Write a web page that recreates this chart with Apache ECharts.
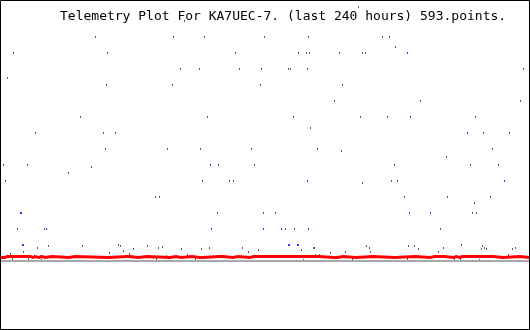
<!DOCTYPE html>
<html><head><meta charset="utf-8">
<script src="https://cdn.jsdelivr.net/npm/echarts@6/dist/echarts.min.js"></script>
<style>html,body{margin:0;padding:0;background:#fff}#c{width:530px;height:330px}</style>
</head><body><div id="c"></div>
<script>
// Title text
const titleText = 'Telemetry Plot For KA7UEC-7. (last 240 hours) 593.points.';

// Black telemetry samples: levels and the hours (0..240) at which they occur
const blackLevels = [15.875, 15, 14, 13.375, 13, 12, 11.4375, 11, 10, 9, 8.3125, 8, 7, 6.875, 6.5, 6, 5.875, 5.5, 5, 4.875, 4, 3.625, 3, 2,
  1, 0.9375, 0.875, 0.8125, 0.75, 0.6875, 0.625, 0.5625, 0.5, 0.4375, 0.375, 0.3125, 0.25, 0.1875, 0.125, 0.0625];
const blackHours = [
  [162.34],
  [83.55],
  [43.25, 78.57, 92.60, 119.77, 139.70, 173.21, 176.38],
  [179.09],
  [6.11, 48.68, 106.64, 135.17, 138.79, 140.15, 153.74, 164.15, 165.51],
  [81.74, 90.34, 108.45, 118.42, 130.64, 131.55, 139.25, 237.06],
  [3.40],
  [48.23, 78.11, 117.96, 155.09],
  [151.47, 190.42, 235.70],
  [36.45, 93.96, 132.91, 163.25, 175.47, 215.32],
  [140.60],
  [16.08, 46.87, 52.30, 218.94, 230.72],
  [47.77, 75.85, 90.79, 113.89, 143.77, 223.02],
  [154.64],
  [202.19],
  [1.58, 12.45, 98.94, 115.25, 178.64, 213.06, 225.74],
  [41.43],
  [31.02],
  [2.49, 91.70, 103.92, 105.74, 177.28, 180.00],
  [164.15],
  [70.41, 72.23, 183.17, 202.64, 222.11],
  [214.87],
  [98.49, 119.32, 124.75, 213.96, 215.77],
  [7.92, 20.15, 129.28, 133.36, 199.47],
  [53.66, 208.98],
  [21.96, 37.36, 54.57, 66.79, 165.96, 184.98, 187.70, 218.49],
  [73.59],
  [16.98, 71.77, 94.87, 109.81, 167.32, 200.83, 219.40, 233.43],
  [60.45, 82.19, 91.25, 189.51, 218.04, 220.30, 232.08],
  [117.06, 136.53],
  [55.92],
  [10.64, 112.53, 156.45, 167.77, 198.57],
  [49.58, 149.66],
  [4.75, 58.64],
  [84.91, 142.87, 144.68, 230.26],
  [18.34, 23.77, 33.74, 75.40],
  [148.75, 165.06, 187.70],
  [62.72, 69.51, 75.40],
  [5.66, 12.91, 70.87, 88.53, 159.62, 184.53, 205.81, 208.53],
  [18.79, 137.43, 217.13]
];
// Heavier black sample
const blackBigHours = [142.19];
const blackBigValues = [0.8125];

// Blue samples
const blueHours  = [184.53, 185.89, 211.70, 95.32, 139.25, 228.45, 185.43, 194.94, 21.06, 95.77, 119.32, 127.47, 139.70];
const blueValues = [13, 9, 8, 6, 5, 5, 3, 3, 2, 2, 2, 2, 2];
const blueBigHours  = [9.51, 10.42, 130.87, 134.94];
const blueBigValues = [3, 1, 1, 1];

// Red trace: change points (hours) and the level held from each one
const redHours = [0.45, 2.26, 3.17, 3.62, 13.58, 14.94, 15.85, 17.66, 19.02, 20.38, 23.55, 31.25, 33.96, 49.36, 57.51, 57.96, 58.87,
  62.49, 66.57, 76.98, 79.70, 81.96, 86.94, 90.57, 91.47, 91.92, 99.17, 99.62, 100.98, 105.51, 107.77, 113.21, 115.02, 115.47,
  116.38, 117.28, 144.45, 151.25, 152.15, 152.60, 155.32, 161.21, 168.91, 178.87, 187.92, 194.72, 196.98, 197.43, 201.06,
  205.58, 206.49, 208.30, 209.21, 210.11, 221.43, 221.89, 223.25, 227.77, 235.47, 239.55];
const redLow = 0.21875, redHigh = 0.28125;

// Grey baseline
const baseHours = [0.45, 239.55];
const baseValues = [0, 0];

const blackData = [];
blackLevels.forEach((v, i) => blackHours[i].forEach(h => blackData.push([h, v])));
const zip = (a, b) => a.map((x, i) => [x, b[i]]);
// first point low, then alternating high/low, final point low
const redData = redHours.map((h, i) => [h, (i > 0 && i < redHours.length - 1 && i % 2 === 1) ? redHigh : redLow]);

const chart = echarts.init(document.getElementById('c'), null, {renderer: 'canvas'});
chart.setOption({
  animation: false,
  backgroundColor: '#fff',
  title: {
    text: titleText, left: 60, top: 10, padding: 0,
    textStyle: {fontFamily: 'DejaVu Sans Mono', fontSize: 13, fontWeight: 'normal', color: '#000', lineHeight: 14}
  },
  grid: {left: 0, right: 0, top: 0, bottom: 0},
  xAxis: {type: 'value', min: 0, max: 240, show: false},
  yAxis: {type: 'value', min: -4.3125, max: 16.3125, show: false},
  graphic: [{
    type: 'rect', z: 100, silent: true,
    shape: {x: 0.5, y: 0.5, width: 529, height: 329},
    style: {fill: 'none', stroke: '#000', lineWidth: 1}
  }],
  series: [
    {type: 'line', data: zip(baseHours, baseValues), symbol: 'none', silent: true,
     lineStyle: {color: '#a8a8a8', width: 2}},
    {type: 'line', step: 'end', data: redData, symbol: 'none', silent: true,
     lineStyle: {color: '#ff0000', width: 3, join: 'miter', cap: 'butt'}},
    {type: 'scatter', data: blackData, symbol: 'rect', symbolSize: [1, 2], silent: true,
     itemStyle: {color: '#333333'}},
    {type: 'scatter', data: zip(blackBigHours, blackBigValues), symbol: 'rect', symbolSize: [2, 2], silent: true,
     itemStyle: {color: '#333333'}},
    {type: 'scatter', data: zip(blueHours, blueValues), symbol: 'rect', symbolSize: [1, 2], silent: true,
     itemStyle: {color: '#0000ff'}},
    {type: 'scatter', data: zip(blueBigHours, blueBigValues), symbol: 'rect', symbolSize: [2, 2], silent: true,
     itemStyle: {color: '#0000ff'}}
  ]
});
</script></body></html>
